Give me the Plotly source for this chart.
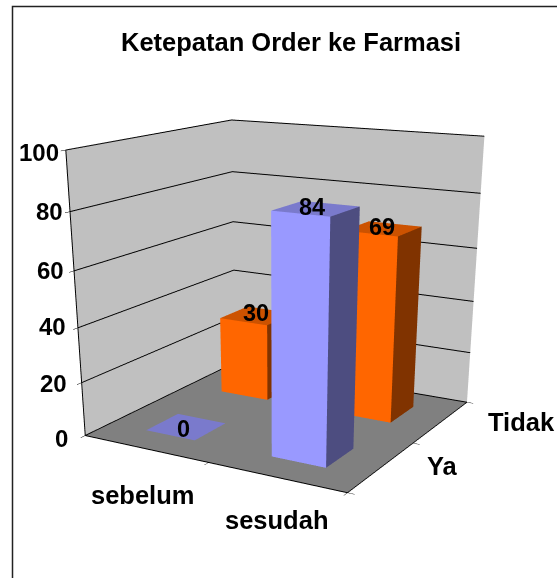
import plotly.graph_objects as go

title = "Ketepatan Order ke Farmasi"
categories = ["sebelum", "sesudah"]
series_names = ["Ya", "Tidak"]
ya_values = [0, 84]
tidak_values = [30, 69]
z_ticks = [0, 20, 40, 60, 80, 100]

W, H = 557, 1000
BAR_HALF = 0.2
fig = go.Figure()

def box(cols, i, j, v):
    x0, x1 = i + 0.5 - BAR_HALF, i + 0.5 + BAR_HALF
    y0, y1 = j + 0.5 - BAR_HALF, j + 0.5 + BAR_HALF
    xs = [x0, x1, x1, x0, x0, x1, x1, x0]
    ys = [y0, y0, y1, y1, y0, y0, y1, y1]
    zs = [0, 0, 0, 0, v, v, v, v]
    I = [0, 0, 1, 1, 4, 4, 3, 3]
    J = [1, 5, 2, 6, 5, 6, 0, 4]
    K = [5, 4, 6, 5, 6, 7, 4, 7]
    fc = [cols[0]] * 2 + [cols[1]] * 2 + [cols[2]] * 2 + [cols[0]] * 2
    fig.add_trace(go.Mesh3d(x=xs, y=ys, z=zs, i=I, j=J, k=K, facecolor=fc, flatshading=True,
                            lighting=dict(ambient=1, diffuse=0, specular=0, fresnel=0, roughness=1),
                            hoverinfo="skip", showscale=False))

blue = ("#9999FF", "#4D4D80", "#7A7ACC")
orange = ("#FF6600", "#803300", "#CC5200")
for i, v in enumerate(ya_values):
    box(blue, i, 0, v)
for i, v in enumerate(tidak_values):
    box(orange, i, 1, v)

ann = []
def lab(x, y, z, t, size=24, xshift=0, yshift=0, xanchor="center"):
    ann.append(dict(x=x, y=y, z=z, text=f"<b>{t}</b>", showarrow=False, xshift=xshift, yshift=yshift,
                    xanchor=xanchor, yanchor="middle",
                    font=dict(family="Liberation Sans", size=size, color="black")))

ya_shift = [(-3, -2), (-4, 2)]
tidak_shift = [(-1, 3), (-1, 2)]
for i, v in enumerate(ya_values):
    lab(i + .5, .5, v, v, 23.5, *ya_shift[i])
for i, v in enumerate(tidak_values):
    lab(i + .5, 1.5, v, v, 23.5, *tidak_shift[i])
cat_shift = [(-3, -46), (1, -43)]
for i, c in enumerate(categories):
    lab(i + .5, 0, 0, c, 25.5, *cat_shift[i])
ser_shift = [(61, 1), (80, 0)]
for j, c in enumerate(series_names):
    lab(2, j + .5, 0, c, 25.5, *ser_shift[j])
tick_shift = [(-15, -3), (-13, -1), (-10, 1), (-8, 0), (-5, 0), (-5, -2)]
for n, t in enumerate(z_ticks):
    lab(0, 0, t, t, 24, *tick_shift[n], "right")

ax = dict(showbackground=True, gridcolor="black", gridwidth=2, showticklabels=False, title="",
          zeroline=False, showline=True, linecolor="black", linewidth=2, showspikes=False,
          ticks="outside", ticklen=6, tickcolor="black", tickwidth=1)

fig.update_layout(
    width=W, height=H, margin=dict(l=0, r=0, t=0, b=0), paper_bgcolor="white", showlegend=False,
    annotations=[dict(x=291 / W, y=1 - 42 / H, xref="paper", yref="paper", xanchor="center", yanchor="middle",
                      text=f"<b>{title}</b>", showarrow=False,
                      font=dict(family="Liberation Sans", size=25.5, color="black"))],
    shapes=[dict(type="path", xref="paper", yref="paper",
                 path=f"M {12.5 / W} 0 L {12.5 / W} {1 - 6.5 / H} L 1 {1 - 6.5 / H}",
                 line=dict(color="#222", width=1.5))],
    scene=dict(domain=dict(x=[0, 1], y=[0, 1]), aspectmode="manual",
               aspectratio=dict(x=1, y=0.9744, z=0.9427),
               camera=dict(eye=dict(x=1.9886, y=-3.5134, z=0.9682),
                           center=dict(x=-1.2696, y=2.1875, z=-1.8868),
                           up=dict(x=0.0027, y=0.0027, z=1),
                           projection=dict(type="perspective")),
               xaxis=dict(ax, range=[0, 2], backgroundcolor="#C0C0C0", tickvals=[0, 1, 2], showgrid=False),
               yaxis=dict(ax, range=[0, 2], backgroundcolor="#C0C0C0", tickvals=[0, 1, 2], showgrid=False),
               zaxis=dict(ax, range=[0, 100], backgroundcolor="#808080", tickvals=z_ticks),
               annotations=ann))

fig.write_html("out.html", config={"displayModeBar": False},
               post_script="document.documentElement.style.overflow='hidden';"
                           "document.body.style.margin='0';document.body.style.overflow='hidden';")
